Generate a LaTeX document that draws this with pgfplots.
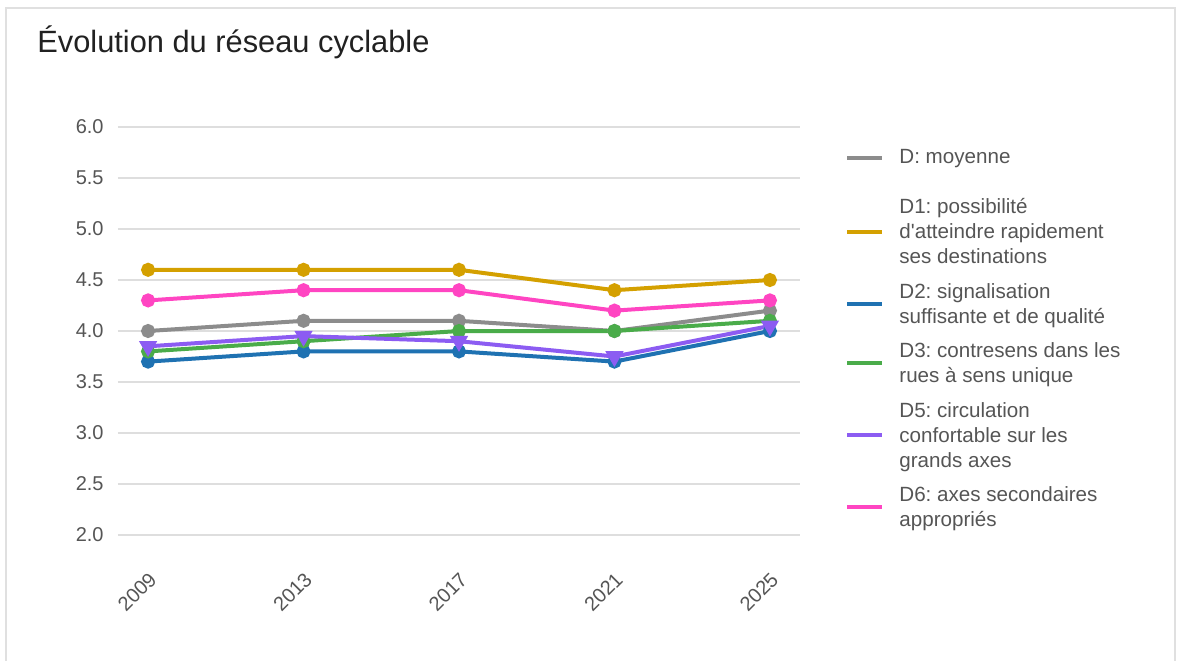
\documentclass[border=0pt]{standalone}
\usepackage{fontspec}
\setmainfont{Liberation Sans}[Ligatures=TeXOff]
\usepackage{pgfplots}
\pgfplotsset{compat=1.18}

\definecolor{cmoy}{HTML}{8C8C8C}
\definecolor{cdun}{HTML}{D4A000}
\definecolor{cdeux}{HTML}{1F72B2}
\definecolor{ctrois}{HTML}{4AAC4A}
\definecolor{ccinq}{HTML}{8C5CF2}
\definecolor{csix}{HTML}{FF45C2}
\definecolor{txt}{HTML}{555555}

\begin{document}
\frenchspacing
\begin{tikzpicture}
% page = 1177 x 660 px at 2 px per pt, origin at the lower left of the plot area
\path[use as bounding box] (-59pt,-62.5pt) rectangle (529.5pt,267.5pt);
\draw[color=black!12, line width=0.7pt] (-56pt,-63pt) -- (-56pt,263.5pt) -- (528.5pt,263.5pt) -- (528.5pt,-63pt);
\node[anchor=base west, inner sep=0pt, text=black!87, font=\fontsize{15.4}{18}\selectfont]
  at (-40.5pt,241.5pt) {Évolution du réseau cyclable};

\begin{axis}[
  at={(0pt,0pt)}, anchor=south west,
  scale only axis, width=341pt, height=204pt,
  xmin=2008.226, xmax=2025.774,
  ymin=2, ymax=6,
  axis line style={draw=none},
  major tick length=0pt,
  xtick={2009,2013,2017,2021,2025},
  ytick={2,2.5,3,3.5,4,4.5,5,5.5,6},
  ymajorgrids,
  major grid style={color=black!13, line width=0.75pt},
  tick label style={font=\fontsize{10}{12}\selectfont, text=txt, inner sep=0pt},
  /pgf/number format/assume math mode=true,
  xticklabel style={/pgf/number format/1000 sep={}, anchor=east, xshift=2.5pt, rotate=45},
  xticklabel shift=20.5pt,
  yticklabel style={/pgf/number format/.cd, fixed, fixed zerofill, precision=1},
  yticklabel shift=7pt,
  legend style={at={(1.066,0.9935)}, anchor=north west, draw=none, fill=none,
    inner sep=0pt, outer sep=0pt, row sep=3pt, column sep=5.5pt,
    font=\fontsize{10.3}{12.5}\selectfont, text=txt,
    cells={anchor=west, align=left, inner sep=0pt}},
  legend image code/.code={\draw[line width=2.2pt] (0pt,0pt) -- (17.5pt,0pt);},
  every axis plot/.append style={line width=2pt, mark size=2.5pt},
]
\addplot[color=cmoy, mark=*] coordinates {(2009,4.0) (2013,4.1) (2017,4.1) (2021,4.0) (2025,4.2)};
\addlegendentry{\rule{0pt}{15.15pt}D: moyenne\\[-4.75pt]\rule{0pt}{0pt}}
\addplot[color=cdun, mark=*] coordinates {(2009,4.6) (2013,4.6) (2017,4.6) (2021,4.4) (2025,4.5)};
\addlegendentry{\strut D1: possibilité\\\strut d'atteindre rapidement\\\strut ses destinations}
\addplot[color=cdeux, mark=*] coordinates {(2009,3.7) (2013,3.8) (2017,3.8) (2021,3.7) (2025,4.0)};
\addlegendentry{\strut D2: signalisation\\\strut suffisante et de qualité}
\addplot[color=ctrois, mark=*] coordinates {(2009,3.8) (2013,3.9) (2017,4.0) (2021,4.0) (2025,4.1)};
\addlegendentry{\strut D3: contresens dans les\\\strut rues à sens unique}
\addplot[color=ccinq, mark=triangle*, mark size=3.3pt, mark options={rotate=180}] coordinates {(2009,3.85) (2013,3.95) (2017,3.9) (2021,3.75) (2025,4.05)};
\addlegendentry{\strut D5: circulation\\\strut confortable sur les\\\strut grands axes}
\addplot[color=csix, mark=*] coordinates {(2009,4.3) (2013,4.4) (2017,4.4) (2021,4.2) (2025,4.3)};
\addlegendentry{\strut D6: axes secondaires\\\strut appropriés}
\end{axis}
\end{tikzpicture}
\end{document}
